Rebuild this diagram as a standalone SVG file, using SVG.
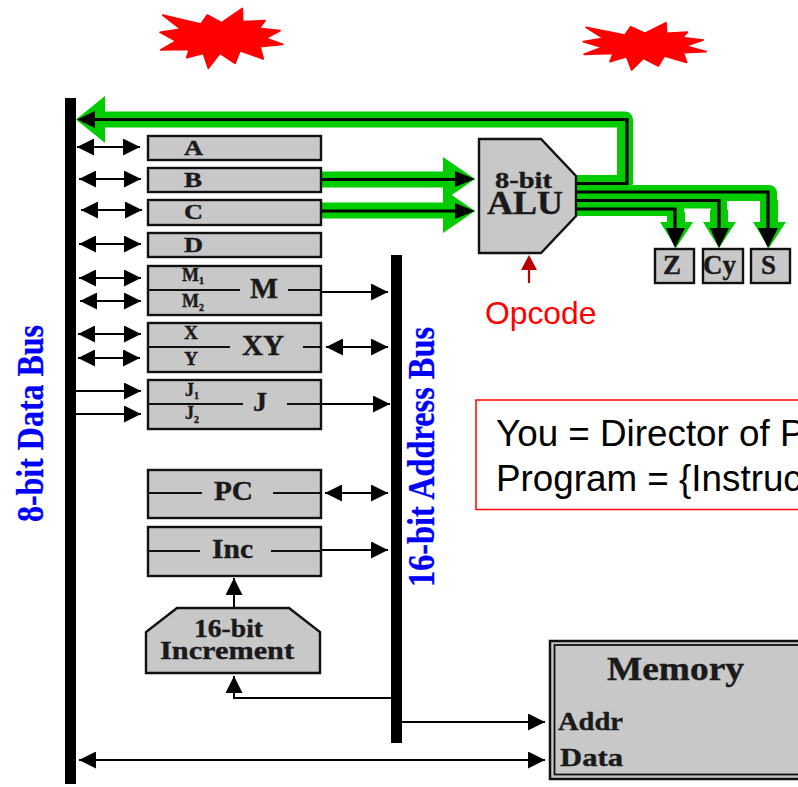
<svg xmlns="http://www.w3.org/2000/svg" width="798" height="787" viewBox="0 0 798 787">
<style>
.reg{fill:#c8c8c8;stroke:#111;stroke-width:2.4}
.dash{stroke:#111;stroke-width:2.2;fill:none}
.t{font-family:"Liberation Serif","Times New Roman",serif;font-weight:bold;fill:#1a1a1a;stroke:#1a1a1a;stroke-width:.4}
.blue{font-family:"Liberation Serif","Times New Roman",serif;font-weight:bold;fill:#0000ff;stroke:#0000ff;stroke-width:.3}
.s{font-family:"Liberation Sans",Arial,sans-serif}
.thin{stroke:#000;stroke-width:2;fill:none}
.one{marker-end:url(#h)}
.two{marker-start:url(#h);marker-end:url(#h)}
.g{stroke:#00cc00;fill:none;stroke-linejoin:round}
.k{stroke:#000;stroke-width:3.2;fill:none}
.gh{fill:#00cc00}
.star{fill:#ff0000;stroke:#ff0000;stroke-width:5;stroke-linejoin:round}
</style>
<defs>
<marker id="h" markerUnits="userSpaceOnUse" markerWidth="17" markerHeight="17" viewBox="0 0 17 17" refX="17" refY="8.500" orient="auto-start-reverse"><path d="M0,0 L17,8.500 L0,17 Z" fill="#000"/></marker>
</defs>
<rect width="798" height="787" fill="#fff"/>

<g id="connectors">
<g class="g" stroke-width="16">
<path d="M100,119.500 H625 V183 H570"/>
<path d="M570,193 H769 V225"/>
<path d="M570,200.500 H719 V225"/>
<path d="M570,208 H676 V225"/>
<path d="M320,179.500 H450"/>
<path d="M320,210.500 H450"/>
</g>
<g class="g" stroke-width="18">
<path d="M769,200 V225"/><path d="M719,210 V225"/><path d="M676,212 V225"/>
</g>
<polygon class="gh" points="76,119.500 105,96 105,143"/>
<polygon class="gh" points="475,179 443,157 443,201"/>
<polygon class="gh" points="475,211 443,189 443,233"/>
<polygon class="gh" points="769,248 753,222 786,222"/>
<polygon class="gh" points="719,248 703,222 736,222"/>
<polygon class="gh" points="676,248 660,222 693,222"/>
<g class="k">
<path d="M90,119.500 H627 V183.500 H570"/>
<path d="M570,192 H768 V230"/>
<path d="M570,200.500 H719 V230"/>
<path d="M570,209 H675 V230"/>
<path d="M320,179.500 H460"/>
<path d="M320,211 H460"/>
</g>
<polygon points="77,119.500 95,111 95,128"/>
<polygon points="475,179 455,171 455,187"/>
<polygon points="475,211 455,203 455,219"/>
<polygon points="768,248 758,228 778,228"/>
<polygon points="719,248 710,228 729,228"/>
<polygon points="675,248 666,228 685,228"/>

<line class="thin two" x1="77" y1="147" x2="140" y2="147"/>
<line class="thin two" x1="79" y1="179" x2="141" y2="179"/>
<line class="thin two" x1="81" y1="210" x2="142" y2="210"/>
<line class="thin two" x1="79" y1="244" x2="141" y2="244"/>
<line class="thin two" x1="79" y1="278" x2="141" y2="278"/>
<line class="thin two" x1="80" y1="301" x2="141" y2="301"/>
<line class="thin two" x1="78" y1="334" x2="141" y2="334"/>
<line class="thin two" x1="78" y1="358" x2="140" y2="358"/>
<line class="thin one" x1="76" y1="391" x2="141" y2="391"/>
<line class="thin one" x1="76" y1="414" x2="141" y2="414"/>
<line class="thin one" x1="321" y1="292" x2="388" y2="292"/>
<line class="thin two" x1="326" y1="347" x2="388" y2="347"/>
<line class="thin one" x1="321" y1="404" x2="390" y2="404"/>
<line class="thin two" x1="325" y1="493" x2="388" y2="493"/>
<line class="thin one" x1="321" y1="550" x2="388" y2="550"/>
<line class="thin one" x1="234" y1="608" x2="234" y2="578"/>
<path class="thin one" d="M391,698 H234 V676"/>
<line class="thin one" x1="402" y1="722" x2="545" y2="722"/>
<line class="thin two" x1="79" y1="760" x2="545" y2="760"/>
<g id="opcode-arrow"><line x1="529" y1="268" x2="529" y2="283" stroke="#b80000" stroke-width="2.200"/><polygon points="529,255 521,270 537,270" fill="#b80000"/></g>
</g>

<g id="star1"><polygon class="star" transform="translate(150,0) scale(.3333)" points="38,45 153,72 172,45 215,68 277,25 278,65 345,62 328,85 390,92 348,115 398,133 330,140 340,177 270,152 255,190 210,160 175,205 160,160 110,173 118,148 32,150 78,123 30,97 92,87"/></g>
<g id="star2"><polygon class="star" transform="translate(575,10) scale(.3333)" points="33,52 150,75 167,50 210,70 273,38 275,70 338,66 322,83 385,90 332,108 393,125 325,128 335,157 268,138 250,168 205,145 170,180 155,140 105,155 115,130 27,133 82,112 25,95 85,85"/></g>

<g id="data-bus"><rect x="65" y="98" width="11" height="686" fill="#000"/>
<text class="blue" font-size="38" textLength="197" lengthAdjust="spacingAndGlyphs" transform="translate(43,522) rotate(-90)">8-bit Data Bus</text></g>
<g id="address-bus"><rect x="391" y="255" width="11" height="488" fill="#000"/>
<text class="blue" font-size="38" textLength="260" lengthAdjust="spacingAndGlyphs" transform="translate(434,587) rotate(-90)">16-bit Address Bus</text></g>

<g id="reg-a"><rect class="reg" x="148" y="136" width="173" height="24"/><text class="t" x="184" y="155" font-size="22" textLength="19" lengthAdjust="spacingAndGlyphs">A</text></g>
<g id="reg-b"><rect class="reg" x="148" y="168" width="173" height="24"/><text class="t" x="184" y="187" font-size="22" textLength="18" lengthAdjust="spacingAndGlyphs">B</text></g>
<g id="reg-c"><rect class="reg" x="148" y="200" width="173" height="25"/><text class="t" x="184" y="219" font-size="22" textLength="19" lengthAdjust="spacingAndGlyphs">C</text></g>
<g id="reg-d"><rect class="reg" x="148" y="233" width="173" height="24"/><text class="t" x="184" y="252" font-size="22" textLength="19" lengthAdjust="spacingAndGlyphs">D</text></g>
<g id="reg-m"><rect class="reg" x="148" y="266" width="173" height="49"/>
<path class="dash" d="M148,290 H240 M288,290 H321"/>
<text class="t" x="182" y="281" font-size="18">M<tspan font-size="10" dy="3">1</tspan></text>
<text class="t" x="182" y="307" font-size="18">M<tspan font-size="10" dy="4">2</tspan></text>
<text class="t" x="250" y="298" font-size="29" textLength="28" lengthAdjust="spacingAndGlyphs">M</text></g>
<g id="reg-xy"><rect class="reg" x="148" y="323" width="173" height="49"/>
<path class="dash" d="M148,347 H230 M303,347 H321"/>
<text class="t" x="184" y="339" font-size="19" textLength="14" lengthAdjust="spacingAndGlyphs">X</text>
<text class="t" x="184" y="365" font-size="19" textLength="14" lengthAdjust="spacingAndGlyphs">Y</text>
<text class="t" x="242" y="355" font-size="29" textLength="42" lengthAdjust="spacingAndGlyphs">XY</text></g>
<g id="reg-j"><rect class="reg" x="148" y="380" width="173" height="49"/>
<path class="dash" d="M148,404 H243 M287,404 H321"/>
<text class="t" x="185" y="396" font-size="18">J<tspan font-size="10" dy="3">1</tspan></text>
<text class="t" x="185" y="419" font-size="18">J<tspan font-size="10" dy="4">2</tspan></text>
<text class="t" x="253" y="411" font-size="28">J</text></g>
<g id="reg-pc"><rect class="reg" x="148" y="470" width="173" height="48"/>
<path class="dash" d="M148,493 H202 M273,493 H321"/>
<text class="t" x="214" y="500" font-size="28" textLength="39" lengthAdjust="spacingAndGlyphs">PC</text></g>
<g id="reg-inc"><rect class="reg" x="148" y="527" width="173" height="49"/>
<path class="dash" d="M148,551 H200 M271,551 H321"/>
<text class="t" x="212" y="558" font-size="27" textLength="41" lengthAdjust="spacingAndGlyphs">Inc</text></g>
<g id="increment"><polygon class="reg" points="177,608 289,608 320,632 320,673 146,673 146,632"/>
<text class="t" x="194" y="637" font-size="25" textLength="69" lengthAdjust="spacingAndGlyphs">16-bit</text>
<text class="t" x="160" y="659" font-size="25" textLength="134" lengthAdjust="spacingAndGlyphs">Increment</text></g>

<g id="alu"><polygon class="reg" points="479,139 541,139 576,176 576,216 541,253 479,253"/>
<text class="t" x="495" y="188" font-size="24" textLength="57" lengthAdjust="spacingAndGlyphs">8-bit</text>
<text class="t" x="487" y="214" font-size="33" textLength="76" lengthAdjust="spacingAndGlyphs">ALU</text></g>
<g id="flag-z"><rect class="reg" x="655" y="249" width="39" height="34"/><text class="t" x="663" y="274" font-size="27" textLength="18" lengthAdjust="spacingAndGlyphs">Z</text></g>
<g id="flag-cy"><rect class="reg" x="703" y="249" width="40" height="34"/><text class="t" x="703" y="274" font-size="27" textLength="33" lengthAdjust="spacingAndGlyphs">Cy</text></g>
<g id="flag-s"><rect class="reg" x="751" y="249" width="39" height="34"/><text class="t" x="761" y="274" font-size="27" textLength="15" lengthAdjust="spacingAndGlyphs">S</text></g>

<g id="opcode"><text class="s" x="485" y="323.500" font-size="31.800" fill="#ff0000">Opcode</text></g>

<g id="note"><rect x="476" y="400" width="340" height="109.500" fill="#fff" stroke="#ff0000" stroke-width="1.500"/>
<text class="s" x="496" y="445.500" font-size="36.800" fill="#000">You = Director of P</text>
<text class="s" x="496" y="490.500" font-size="36.800" fill="#000">Program = {Instruc</text></g>

<g id="memory"><rect x="550" y="641" width="300" height="138" fill="#c8c8c8" stroke="#111" stroke-width="2.500"/>
<rect x="554.500" y="645" width="300" height="129.500" fill="#c8c8c8" stroke="#111" stroke-width="1.800"/>
<text class="t" x="607" y="680" font-size="34" textLength="137" lengthAdjust="spacingAndGlyphs">Memory</text>
<text class="t" x="558" y="730" font-size="26" textLength="65" lengthAdjust="spacingAndGlyphs">Addr</text>
<text class="t" x="560" y="766" font-size="26" textLength="63" lengthAdjust="spacingAndGlyphs">Data</text></g>
</svg>
